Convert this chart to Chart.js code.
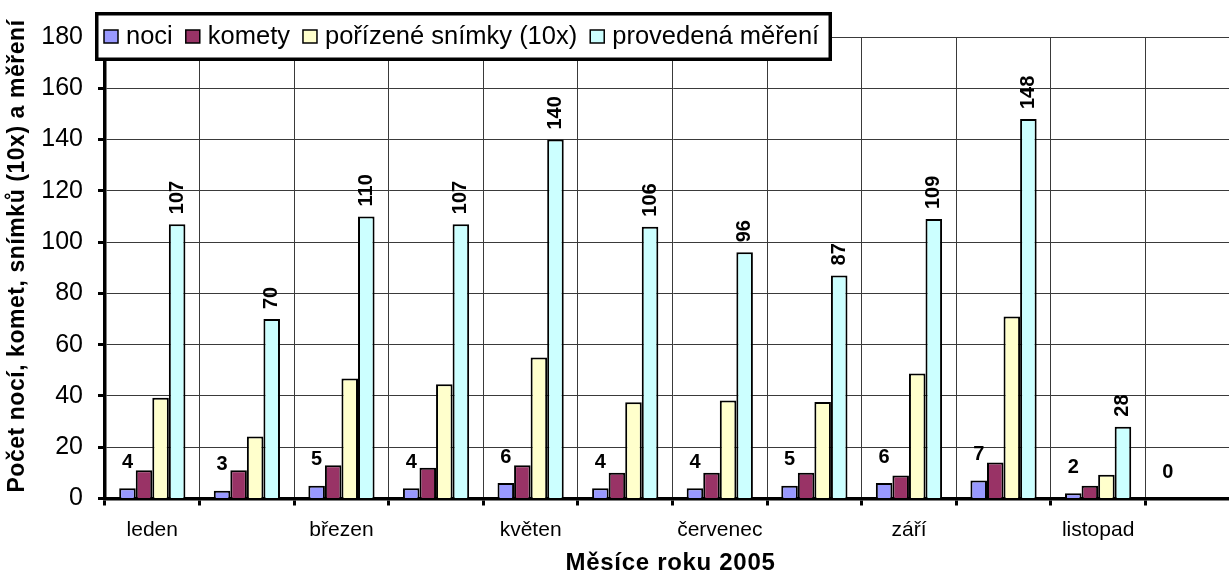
<!DOCTYPE html>
<html>
<head>
<meta charset="utf-8">
<script src="https://cdn.jsdelivr.net/npm/chart.js@4/dist/chart.umd.min.js"></script>
<style>
  html, body { margin:0; padding:0; background:#fff; overflow:hidden; width:1229px; height:585px; }
  #wrap { width:1245px; height:585px; }
  canvas { display:block; }
</style>
</head>
<body>
<div id="wrap"><canvas id="c" width="1245" height="585"></canvas></div>
<script>
const months = ['leden','únor','březen','duben','květen','červen','červenec','srpen','září','říjen','listopad','prosinec'];
const noci = [4, 3, 5, 4, 6, 4, 4, 5, 6, 7, 2, 0];
const komety = [11, 11, 13, 12, 13, 10, 10, 10, 9, 14, 5, 0];
const snimky = [39.3, 24.2, 46.8, 44.6, 55, 37.5, 38.2, 37.6, 48.8, 71, 9.3, 0];
const mereni = [107, 70, 110, 107, 140, 106, 96, 87, 109, 148, 28, null];
const seriesNames = ['noci', 'komety', 'pořízené snímky (10x)', 'provedená měření'];
const seriesColors = ['#9999FF', '#993366', '#FFFFCC', '#CCFFFF'];
const yTitle = 'Počet nocí, komet, snímků (10x) a měření';
const xTitle = 'Měsíce roku 2005';

const FONT = '"Liberation Sans", Arial, sans-serif';
Chart.defaults.font.family = FONT;
Chart.defaults.color = '#000';

const labelPlugin = {
  id: 'valueLabels',
  afterDatasetsDraw(chart) {
    const ctx = chart.ctx;
    ctx.save();
    ctx.font = 'bold 20px ' + FONT;
    ctx.fillStyle = '#000';
    const m0 = chart.getDatasetMeta(0);
    m0.data.forEach((bar, i) => {
      const v = noci[i];
      if (v == null) return;
      ctx.textAlign = 'center';
      ctx.textBaseline = 'middle';
      ctx.fillText(String(v), bar.x, bar.y - 26);
    });
    const m3 = chart.getDatasetMeta(3);
    m3.data.forEach((bar, i) => {
      const v = mereni[i];
      if (v == null) return;
      ctx.save();
      ctx.translate(bar.x, bar.y - 10);
      ctx.rotate(-Math.PI / 2);
      ctx.textAlign = 'left';
      ctx.textBaseline = 'middle';
      ctx.fillText(String(v), 0, 0);
      ctx.restore();
    });
    ctx.restore();
  }
};

const titlePlugin = {
  id: 'axisTitles',
  afterDraw(chart) {
    const ctx = chart.ctx;
    const xs = chart.scales.x;
    ctx.save();
    ctx.fillStyle = '#000';
    ctx.textAlign = 'center';
    ctx.textBaseline = 'middle';
    ctx.font = 'bold 23px ' + FONT;
    if ('letterSpacing' in ctx) ctx.letterSpacing = '0.55px';
    ctx.save();
    ctx.translate(18, 256);
    ctx.rotate(-Math.PI / 2);
    ctx.fillText(yTitle, 0, 0);
    ctx.restore();
    ctx.font = 'bold 24px ' + FONT;
    if ('letterSpacing' in ctx) ctx.letterSpacing = '0.7px';
    ctx.fillText(xTitle, (xs.left + xs.right) / 2 - 2, 563);
    ctx.restore();
  }
};

const legendPlugin = {
  id: 'boxLegend',
  afterDraw(chart) {
    const ctx = chart.ctx;
    ctx.save();
    const bx = 95, by = 12, bw = 737, bh = 49, lw = 3.5;
    ctx.fillStyle = '#fff';
    ctx.fillRect(bx, by, bw, bh);
    ctx.strokeStyle = '#000';
    ctx.lineWidth = lw;
    ctx.strokeRect(bx + lw/2, by + lw/2, bw - lw, bh - lw);
    ctx.font = '25.5px ' + FONT;
    ctx.textBaseline = 'alphabetic';
    ctx.textAlign = 'left';
    let x = 104;
    chart.data.datasets.forEach((ds) => {
      ctx.fillStyle = ds.backgroundColor;
      ctx.fillRect(x, 30, 14, 13);
      ctx.lineWidth = 1.5;
      ctx.strokeStyle = '#000';
      ctx.strokeRect(x, 30, 14, 13);
      ctx.fillStyle = '#000';
      ctx.fillText(ds.label, x + 22, 44);
      x += 22 + ctx.measureText(ds.label).width + 13;
    });
    ctx.restore();
  }
};

const datasets = [noci, komety, snimky, mereni].map((d, k) => ({
  label: seriesNames[k],
  data: d,
  backgroundColor: seriesColors[k],
  borderColor: '#000',
  borderWidth: 2,
  barPercentage: 1,
  categoryPercentage: 0.7
}));

new Chart(document.getElementById('c'), {
  type: 'bar',
  data: { labels: months, datasets },
  options: {
    responsive: false,
    animation: false,
    devicePixelRatio: 1,
    layout: { padding: { top: 37, right: 5, bottom: 0, left: 0 } },
    plugins: { legend: { display: false }, tooltip: { enabled: false } },
    scales: {
      x: {
        grid: { offset: true, color: '#3a3a3a', lineWidth: 1, tickLength: 7, tickColor: '#000', tickWidth: 3 },
        border: { color: '#000', width: 3.5 },
        ticks: {
          autoSkip: false, maxRotation: 0, minRotation: 0, padding: 12,
          font: { size: 21 }, color: '#000',
          callback: (v, i) => (i % 2 === 0 ? months[i] : '')
        },
        title: { display: false, text: xTitle },
        afterFit: (s) => { s.height = 86.5; }
      },
      y: {
        min: 0, max: 180,
        ticks: { stepSize: 20, padding: 15, font: { size: 25 }, color: '#000' },
        grid: { color: '#3a3a3a', lineWidth: 1, tickLength: 7, tickColor: '#000', tickWidth: 3 },
        border: { color: '#000', width: 3.5 },
        title: { display: false, text: yTitle },
        afterFit: (s) => { s.width = 105; }
      }
    }
  },
  plugins: [labelPlugin, titlePlugin, legendPlugin]
});
</script>
</body>
</html>
